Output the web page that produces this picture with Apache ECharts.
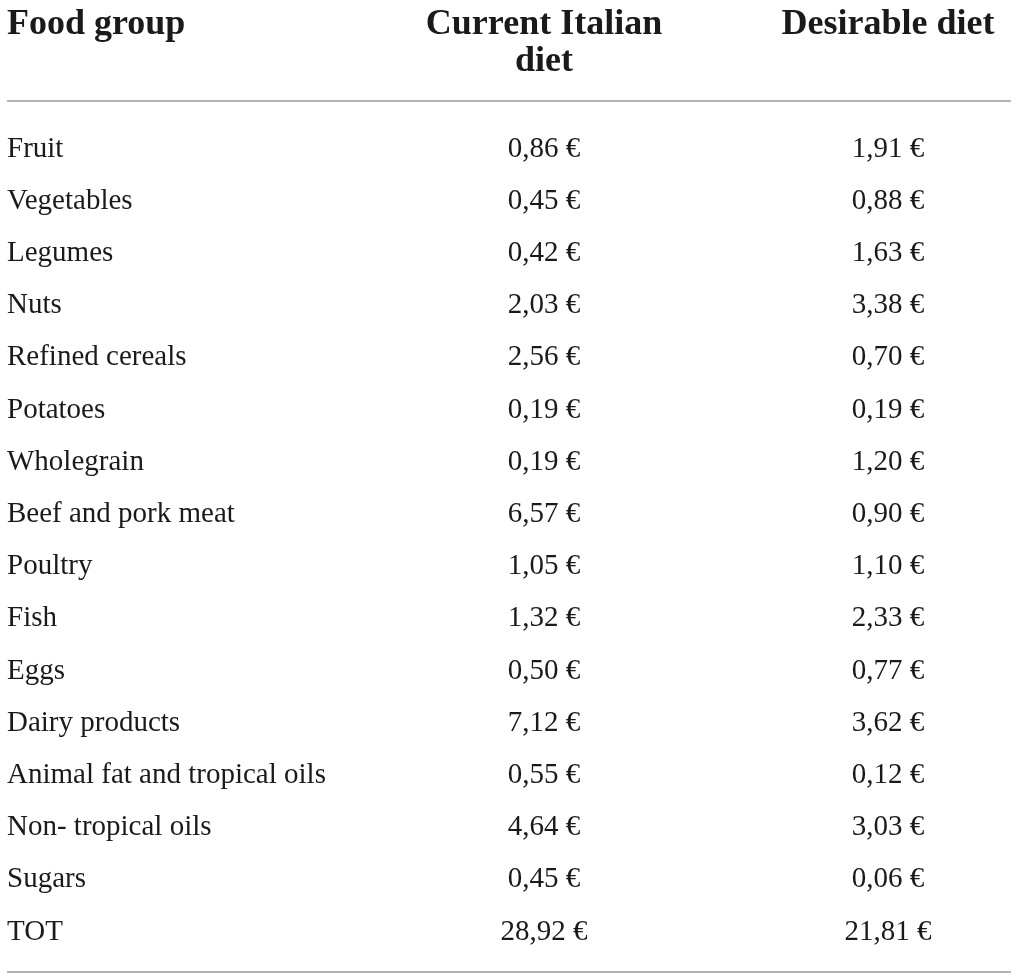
<!DOCTYPE html>
<html><head><meta charset="utf-8">
<script src="https://cdn.jsdelivr.net/npm/echarts@6/dist/echarts.min.js"></script>
<style>html,body{margin:0;padding:0;background:#fff}#c{width:1017px;height:978px}</style>
</head><body><div id="c"></div>
<script>
const headers = ['Food group', 'Current Italian\ndiet', 'Desirable diet'];
const foodGroups = ['Fruit','Vegetables','Legumes','Nuts','Refined cereals','Potatoes','Wholegrain','Beef and pork meat','Poultry','Fish','Eggs','Dairy products','Animal fat and tropical oils','Non- tropical oils','Sugars','TOT'];
const currentItalian = [0.86,0.45,0.42,2.03,2.56,0.19,0.19,6.57,1.05,1.32,0.50,7.12,0.55,4.64,0.45,28.92];
const desirable = [1.91,0.88,1.63,3.38,0.70,0.19,1.20,0.90,1.10,2.33,0.77,3.62,0.12,3.03,0.06,21.81];

const FONT = '"Liberation Serif","Times New Roman",serif';
const TXT = '#1a1a1a';
const fmt = v => v.toFixed(2).replace('.', ',') + ' €';

const chart = echarts.init(document.getElementById('c'), null, {renderer:'canvas'});
function colSeries(colName, vals){
  return {
    type:'scatter', symbolSize:0, silent:true, animation:false,
    itemStyle:{opacity:1},
    data: vals.map((v,i)=>[colName, foodGroups[i], v]),
    encode:{x:0,y:1},
    label:{show:true, position:'inside', formatter:p=>fmt(p.value[2]),
      fontFamily:FONT, fontSize:29, color:TXT, opacity:1, align:'center', verticalAlign:'middle'}
  };
}
chart.setOption({
  backgroundColor:'#fff',
  animation:false,
  grid:{left:544, width:344, top:123, height:835},
  xAxis:{type:'category', position:'top', boundaryGap:false, data:headers.slice(1),
    axisLine:{show:false}, axisTick:{show:false}, splitLine:{show:false},
    axisLabel:{interval:0, margin:117, verticalAlign:'top', align:'center',
      fontFamily:FONT, fontSize:36, fontWeight:'bold', color:TXT, lineHeight:37}},
  yAxis:{type:'category', inverse:true, data:foodGroups,
    axisLine:{show:false}, axisTick:{show:false}, splitLine:{show:false},
    axisLabel:{interval:0, margin:537, align:'left', verticalAlign:'middle',
      fontFamily:FONT, fontSize:29, color:TXT}},
  series:[colSeries(headers[1], currentItalian), colSeries(headers[2], desirable)],
  graphic:[
    {type:'text', left:7, top:6, style:{text:headers[0], font:'bold 36px '+FONT, fill:TXT, lineHeight:37}},
    {type:'line', shape:{x1:7,y1:101,x2:1011,y2:101}, style:{stroke:'#9a9a9a', lineWidth:1.3}},
    {type:'line', shape:{x1:7,y1:972,x2:1011,y2:972}, style:{stroke:'#9a9a9a', lineWidth:1.3}}
  ]
});
</script></body></html>
